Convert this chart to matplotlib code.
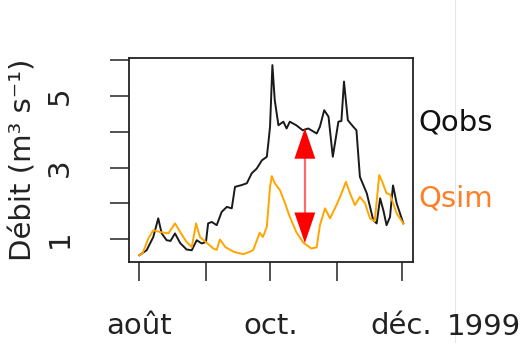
import matplotlib
matplotlib.use("Agg")
import matplotlib.pyplot as plt
from matplotlib.lines import Line2D

# days since 1 Aug 1999
obs_days = [0, 3.4, 6.5, 8.8, 10.4, 12.7, 14.5, 16.6, 19, 22, 24.4, 26.7, 29, 31,
            32, 33.7, 36, 38.3, 40.7, 43, 44.5, 47.6, 50, 52.3, 54.6, 57, 59.3,
            60, 60.8, 61.9, 63, 64.7, 67, 68.5, 70, 73, 76, 78.6, 82.5, 84, 86,
            88, 90, 92.6, 94, 95.2, 97, 99.5, 101, 102.6, 105.8, 108.8, 110.4,
            112, 113.5, 115, 116.6, 118, 119.7, 122.8]
qobs = [0.55, 0.69, 1.06, 1.58, 1.16, 0.97, 0.95, 1.16, 0.89, 0.71, 0.69, 0.97,
        0.88, 0.92, 1.44, 1.48, 1.39, 1.76, 1.9, 1.86, 2.46, 2.51, 2.56, 2.84,
        2.97, 3.2, 3.3, 3.67, 4.14, 5.86, 4.88, 4.18, 4.28, 4.09, 4.28, 4.18,
        4.04, 4.09, 3.95, 4.14, 4.6, 4.42, 3.3, 4.28, 4.3, 5.4, 4.32, 4.14,
        4.04, 2.74, 2.28, 1.53, 1.44, 2.14, 1.81, 1.39, 1.62, 2.5, 2.0, 1.44]

sim_days = [0, 1.5, 4.2, 6.5, 9.6, 13.5, 16.6, 19, 22, 24.4, 26.4, 28.2, 31.3,
            34.4, 36, 37.5, 40, 43.7, 48.4, 51.5, 53, 56, 57.5, 59.3, 60.8, 61.6,
            63, 65.4, 67.8, 70, 73, 76.3, 80, 82.5, 84, 86.4, 88.7, 91, 93.4,
            96.1, 98, 100.3, 102.6, 105, 107.3, 109.5, 111.6, 113, 115, 116.6,
            119.7, 122.8]
qsim = [0.55, 0.6, 1.02, 1.25, 1.2, 1.16, 1.44, 1.2, 0.92, 0.78, 1.44, 1.06,
        0.9, 0.74, 0.7, 0.99, 0.78, 0.65, 0.58, 0.65, 0.7, 1.18, 1.06, 1.34,
        2.46, 2.76, 2.56, 2.37, 2.0, 1.62, 1.2, 0.9, 0.74, 0.77, 1.39, 1.86,
        1.58, 1.86, 2.18, 2.6, 2.28, 1.95, 2.18, 2.0, 1.58, 1.5, 2.79, 2.6,
        2.28, 2.25, 1.72, 1.44]

month_days = [0, 31, 61, 92, 122]
month_labels = ["août", "", "oct.", "", "déc."]
y_ticks = [1, 2, 3, 4, 5, 6]
y_labels = ["1", "", "3", "", "5", ""]
gap_day, gap_top, gap_bottom = 77, 4.1, 0.89

fig = plt.figure(figsize=(5.25, 3.43), dpi=100)
ax = fig.add_axes([129 / 525, 1 - 261.7 / 343, (413 - 129) / 525, (261.7 - 58.3) / 343])

ax.plot(obs_days, qobs, color="#1a1a1a", lw=1.4)
ax.plot(sim_days, qsim, color="#FFA500", lw=1.4)

# double arrow: pale shaft + solid heads
ax.plot([gap_day, gap_day], [gap_top - 0.3, gap_bottom + 0.3], color="#ff6a6a", lw=1.6)
mid = (gap_top + gap_bottom) / 2
for tip in (gap_top, gap_bottom):
    ax.annotate("", xy=(gap_day, tip), xytext=(gap_day, mid),
                arrowprops=dict(arrowstyle="-|>,head_length=2.2,head_width=0.75",
                                color="#ff0000", lw=0.01, shrinkA=0, shrinkB=0))

ax.set_xlim(-4.8, 127.3)
ax.set_ylim(0.37, 6.05)
ax.set_xticks(month_days)
ax.set_xticklabels(month_labels)
ax.set_yticks(y_ticks)
ax.set_yticklabels(y_labels, rotation=90, va="center")
ax.tick_params(axis="both", length=14, width=1.2, color="#333333", labelsize=21,
               labelcolor="#222222")
ax.tick_params(axis="x", pad=22)
ax.tick_params(axis="y", pad=26)
for s in ax.spines.values():
    s.set_linewidth(1.3)
    s.set_color("#222222")

ax.set_ylabel("Débit (m³ s⁻¹)", fontsize=21, color="#222222", labelpad=6)

fig.text(418 / 525, 1 - 122 / 343, "Qobs", fontsize=21, color="#111111", va="center")
fig.text(418 / 525, 1 - 198 / 343, "Qsim", fontsize=21, color="#FF7F27", va="center")
fig.text(447 / 525, 1 - 327 / 343, "1999", fontsize=21, color="#222222", va="center")

fig.add_artist(Line2D([455 / 525, 455 / 525], [0, 1], color="#e6e6e6", lw=0.8))

fig.savefig("out.png", dpi=100)
